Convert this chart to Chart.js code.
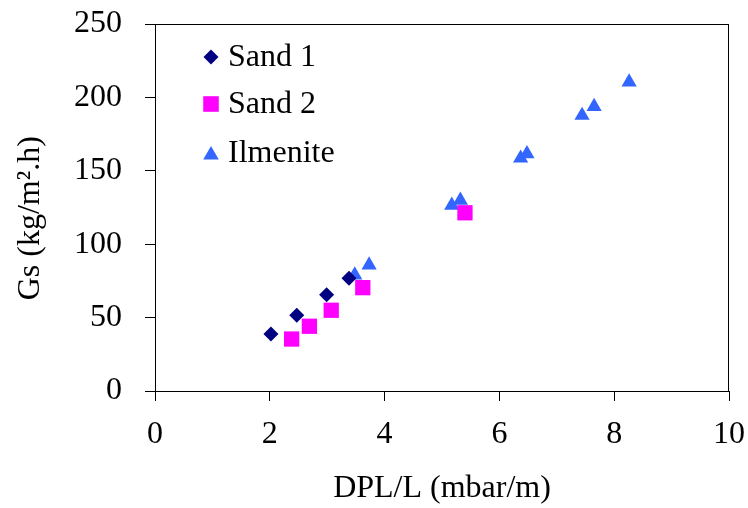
<!DOCTYPE html>
<html>
<head>
<meta charset="utf-8">
<script src="https://cdn.jsdelivr.net/npm/chart.js@4"></script>
<style>
  html, body { margin: 0; padding: 0; background: #fff; }
  #wrap { width: 748px; height: 508px; }
</style>
</head>
<body>
<div id="wrap"><canvas id="chart" width="748" height="508"></canvas></div>
<script>
// données
const sand1X = [2.02, 2.47, 2.99, 3.38];
const sand1Y = [38.8, 51.6, 65.6, 76.8];
const sand2X = [2.38, 2.69, 3.07, 3.62, 5.40];
const sand2Y = [35.4, 44.1, 55.0, 70.4, 121.4];
const ilmX = [3.48, 3.73, 5.17, 5.32, 6.37, 6.48, 7.44, 7.65, 8.26];
const ilmY = [79.0, 85.8, 126.5, 129.9, 158.6, 161.6, 187.7, 193.8, 210.4];
const xTicks = [0, 2, 4, 6, 8, 10];
const yTicks = [0, 50, 100, 150, 200, 250];

const font = "'Liberation Serif', 'DejaVu Serif', serif";

const toPoints = (xs, ys) => xs.map((x, i) => ({ x: x, y: ys[i] }));

// cadre + légende dans la zone du graphique
const framePlugin = {
  id: 'frame',
  afterDraw(chart) {
    const { ctx, chartArea: a } = chart;
    ctx.save();
    ctx.strokeStyle = '#000';
    ctx.lineWidth = 1;
    ctx.strokeRect(a.left + 0.5, a.top + 0.5, a.right - a.left - 1, a.bottom - a.top);

    // légende
    ctx.font = '32px ' + font;
    ctx.textBaseline = 'middle';
    const rows = [57, 104, 153];
    const sizes = { rectRot: 7.5, rect: 11, triangle: 9 };
    chart.data.datasets.forEach((ds, i) => {
      const y = rows[i];
      ctx.fillStyle = ds.backgroundColor;
      Chart.helpers.drawPoint(ctx, {
        pointStyle: ds.pointStyle, radius: sizes[ds.pointStyle], borderWidth: 0
      }, 211, ds.pointStyle === 'triangle' ? y + 2 : y);
      ctx.fillStyle = '#000';
      ctx.fillText(ds.label, 228, y + 1);
    });
    ctx.restore();
  }
};

new Chart(document.getElementById('chart'), {
  type: 'scatter',
  data: {
    datasets: [
      {
        label: 'Sand 1',
        data: toPoints(sand1X, sand1Y),
        pointStyle: 'rectRot',
        pointRadius: 7.5,
        backgroundColor: '#000080',
        borderColor: '#000080',
        borderWidth: 0
      },
      {
        label: 'Sand 2',
        data: toPoints(sand2X, sand2Y),
        pointStyle: 'rect',
        pointRadius: 10.8,
        backgroundColor: '#FF00FF',
        borderColor: '#FF00FF',
        borderWidth: 0
      },
      {
        label: 'Ilmenite',
        data: toPoints(ilmX, ilmY),
        pointStyle: 'triangle',
        pointRadius: 8.8,
        backgroundColor: '#3366FF',
        borderColor: '#3366FF',
        borderWidth: 0
      }
    ]
  },
  options: {
    responsive: false,
    animation: false,
    layout: { padding: { top: 24, right: 19, left: 0, bottom: 0 } },
    plugins: {
      legend: { display: false },
      tooltip: { enabled: false }
    },
    scales: {
      x: {
        type: 'linear',
        min: 0, max: 10,
        afterBuildTicks: (s) => { s.ticks = xTicks.map(v => ({ value: v })); },
        afterFit: (s) => { s.height = 117; s.paddingLeft = 0; s.paddingRight = 0; },
        grid: { drawOnChartArea: false, drawTicks: true, tickLength: 10, color: '#000' },
        border: { display: true, color: '#000' },
        ticks: { color: '#000', font: { family: font, size: 32 }, padding: 14, maxRotation: 0 },
        title: {
          display: true, text: 'DPL/L (mbar/m)', color: '#000',
          font: { family: font, size: 32 }, padding: { top: 0, bottom: 0 }
        }
      },
      y: {
        type: 'linear',
        min: 0, max: 250,
        afterBuildTicks: (s) => { s.ticks = yTicks.map(v => ({ value: v })); },
        afterFit: (s) => { s.width = 155; s.paddingTop = 0; s.paddingBottom = 0; },
        grid: { drawOnChartArea: false, drawTicks: true, tickLength: 10, color: '#000' },
        border: { display: true, color: '#000' },
        ticks: { color: '#000', font: { family: font, size: 32 }, padding: 23 },
        title: {
          display: true, text: 'Gs (kg/m\u00B2.h)\u2002\u2006', color: '#000',
          font: { family: font, size: 32 }, padding: { top: 11, bottom: 0 }
        }
      }
    }
  },
  plugins: [framePlugin]
});
</script>
</body>
</html>
